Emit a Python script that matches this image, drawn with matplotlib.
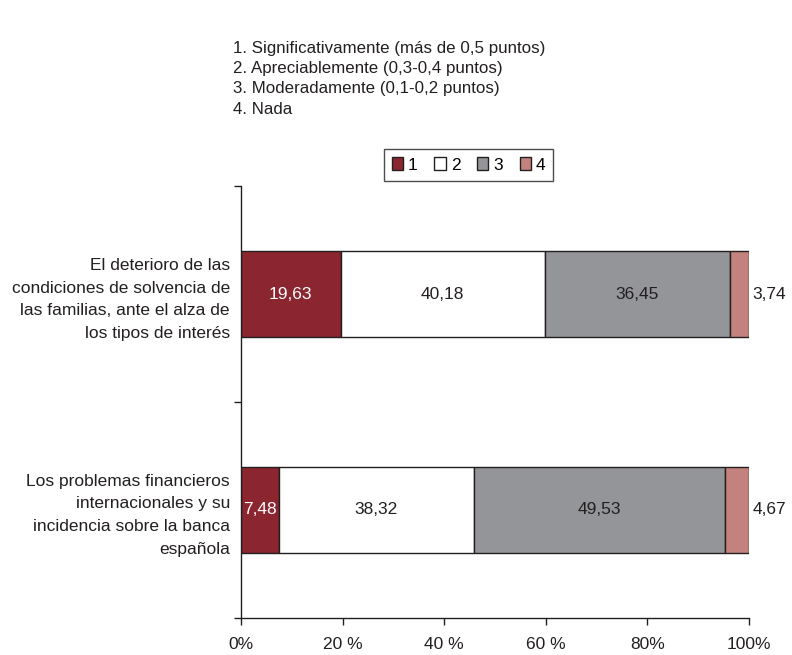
import numpy as np
import matplotlib.pyplot as plt

plt.rcParams['font.family'] = ['Liberation Sans', 'DejaVu Sans']

# encuesta: porcentaje de respuestas por categoría
categorias = ['El deterioro de las\ncondiciones de solvencia de\nlas familias, ante el alza de\nlos tipos de interés',
              'Los problemas financieros\ninternacionales y su\nincidencia sobre la banca\nespañola']
serie_1 = [19.63, 7.48]
serie_2 = [40.18, 38.32]
serie_3 = [36.45, 49.53]
serie_4 = [3.74, 4.67]
series = [serie_1, serie_2, serie_3, serie_4]
nombres = ['1', '2', '3', '4']
colores = ['#8b2530', '#ffffff', '#939598', '#c4827e']
ticks_x = [0, 20, 40, 60, 80, 100]
etiquetas_x = ['0%', '20 %', '40 %', '60 %', '80%', '100%']
notas = ['1. Significativamente (más de 0,5 puntos)',
         '2. Apreciablemente (0,3-0,4 puntos)',
         '3. Moderadamente (0,1-0,2 puntos)',
         '4. Nada']

fs = 12.5
tinta = '#231f20'

def fmt(v):
    return f'{v:.2f}'.replace('.', ',')

fig = plt.figure(figsize=(7.92, 6.55), dpi=100)
ax = fig.add_axes([0.3043, 0.0565, 0.6414, 0.6595])

y = np.arange(len(categorias))
izq = np.zeros(len(categorias))
for i, (vals, nom, col) in enumerate(zip(series, nombres, colores)):
    vals = np.array(vals)
    ax.barh(y, vals, left=izq, height=0.4, color=col, edgecolor=tinta,
            linewidth=1.0, label=nom)
    for yy, l, v in zip(y, izq, vals):
        if i == 3:
            ax.text(l + v + 0.7, yy, fmt(v), ha='left', va='center', fontsize=fs, color=tinta)
        else:
            ax.text(l + v / 2, yy, fmt(v), ha='center', va='center', fontsize=fs,
                    color='white' if i == 0 else tinta)
    izq += vals

ax.set_xlim(0, 100)
ax.set_ylim(1.5, -0.5)
ax.set_xticks(ticks_x)
ax.set_xticklabels(etiquetas_x, fontsize=fs, color=tinta)
ax.set_yticks([-0.5, 0.5, 1.5])
ax.set_yticklabels([])
ax.set_yticks(y, minor=True)
ax.set_yticklabels(categorias, minor=True, fontsize=fs, color=tinta,
                   linespacing=1.65, ha='right')
ax.tick_params(axis='y', which='minor', length=0, pad=8)
ax.tick_params(axis='y', which='major', length=5, width=1, color=tinta)
ax.tick_params(axis='x', length=5, width=1, color=tinta, pad=9)
for s in ['top', 'right']:
    ax.spines[s].set_visible(False)
for s in ['left', 'bottom']:
    ax.spines[s].set_color(tinta)
    ax.spines[s].set_linewidth(1.0)

leg = ax.legend(loc='center', bbox_to_anchor=(0.448, 1.049), ncol=4, frameon=True,
                fancybox=False, edgecolor=tinta, fontsize=fs,
                handlelength=0.65, handleheight=0.8, handletextpad=0.3,
                columnspacing=0.95, borderpad=0.45)
leg.get_frame().set_linewidth(1.0)

fig.text(0.294, 0.880, '\n'.join(notas), ha='left', va='center', fontsize=12.2,
         linespacing=1.45, color=tinta)

fig.savefig('out.png', dpi=100)
